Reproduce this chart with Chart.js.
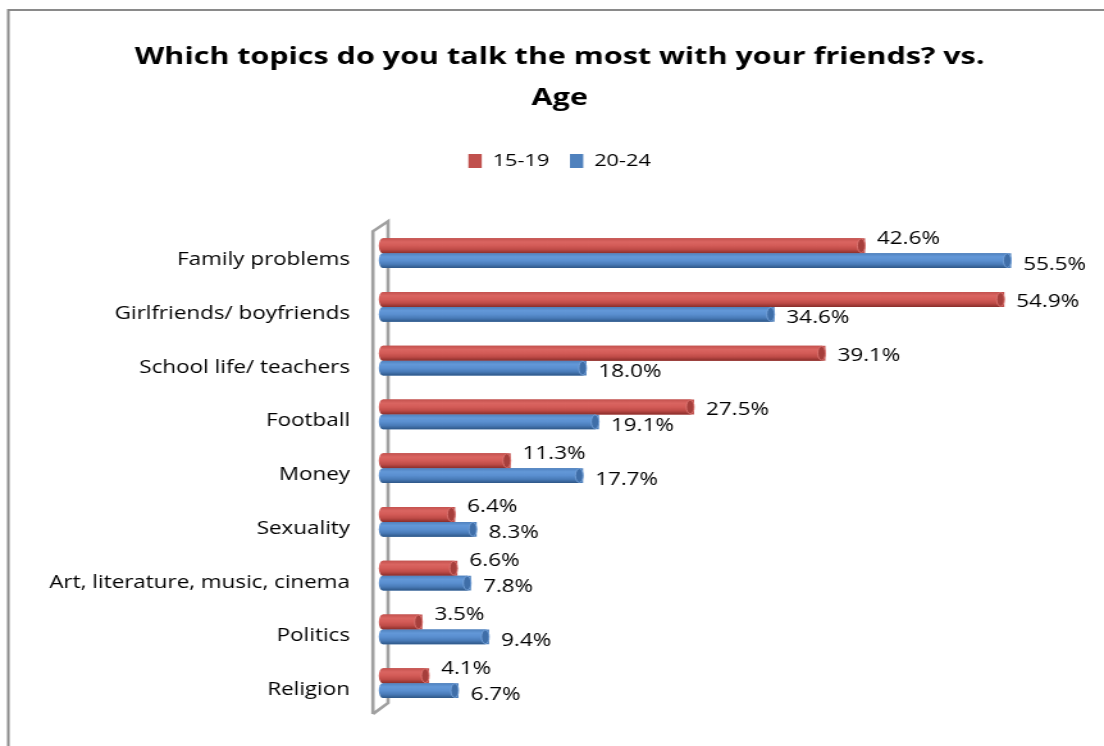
<!DOCTYPE html>
<html>
<head>
<meta charset="utf-8">
<title>Topics vs. Age</title>
<script src="https://cdn.jsdelivr.net/npm/chart.js@4.4.1/dist/chart.umd.min.js"></script>
<style>
  html, body { margin: 0; padding: 0; background: #fff; overflow: hidden; }
  /* chart is laid out narrow and stretched sideways, like the exported picture */
  #wrap { width: 862px; height: 746px; transform: scaleX(1.2807); transform-origin: 0 0; }
</style>
</head>
<body>
<div id="wrap"><canvas id="myChart"></canvas></div>
<script>
// Categories and values (percent)
const topics = [
    'Family problems',
    'Girlfriends/ boyfriends',
    'School life/ teachers',
    'Football',
    'Money',
    'Sexuality',
    'Art, literature, music, cinema',
    'Politics',
    'Religion'
];
const seriesNames = ['15-19', '20-24'];
const age1519 = [42.6, 54.9, 39.1, 27.5, 11.3, 6.4, 6.6, 3.5, 4.1];
const age2024 = [55.5, 34.6, 18.0, 19.1, 17.7, 8.3, 7.8, 9.4, 6.7];

const FONT = '"Open Sans"';

// cylinder shading for each series
const shades = [
    { base: '#C0504D', stops: ['#c4524f', '#da6561', '#d35b57', '#be4b47', '#8a2e2b'], cap: '#a63f3c', rim: '#e07a76' },
    { base: '#4F81BD', stops: ['#4f81bd', '#6398d8', '#5a8fd0', '#497bb8', '#2e5787'], cap: '#3f6ea8', rim: '#7aa6dc' }
];

// Frame lines and the grey 3D wall behind the bars
const backdrop = {
    id: 'backdrop',
    beforeDraw(chart) {
        const c = chart.ctx;
        c.save();
        c.fillStyle = '#fff';
        c.fillRect(0, 0, chart.width, chart.height);
        c.strokeStyle = '#8a8a8a';
        c.lineWidth = 2;
        c.beginPath();
        c.moveTo(6.5, chart.height);
        c.lineTo(6.5, 10);
        c.lineTo(chart.width, 10);
        c.stroke();
        c.restore();
    },
    beforeDatasetsDraw(chart) {
        const a = chart.chartArea;
        const c = chart.ctx;
        const xl = a.left - 7.6, xr = a.left + 4.2;
        c.save();
        c.strokeStyle = '#a0a0a0';
        c.lineWidth = 2.6;
        c.beginPath();
        c.moveTo(xl, a.bottom + 4);
        c.lineTo(xl, a.top + 5);
        c.lineTo(xr, a.top - 5);
        c.lineTo(xr, a.bottom - 7);
        c.lineTo(xl, a.bottom + 4);
        c.stroke();
        c.restore();
    }
};

// Paint each bar as a shaded cylinder, then write its value next to it
const cylinders = {
    id: 'cylinders',
    afterDatasetsDraw(chart) {
        const c = chart.ctx;
        chart.data.datasets.forEach((ds, di) => {
            const meta = chart.getDatasetMeta(di);
            const sh = shades[di];
            meta.data.forEach((bar) => {
                const { x, y, base, height } = bar.getProps(['x', 'y', 'base', 'height'], true);
                const h = height, top = y - h / 2, rx = 3;
                const g = c.createLinearGradient(0, top, 0, top + h);
                sh.stops.forEach((col, k) => g.addColorStop(k / (sh.stops.length - 1), col));
                c.save();
                c.fillStyle = g;
                c.beginPath();
                c.ellipse(base, y, rx, h / 2, 0, Math.PI / 2, Math.PI * 1.5);
                c.lineTo(x - rx, top);
                c.ellipse(x - rx, y, rx, h / 2, 0, -Math.PI / 2, Math.PI / 2);
                c.closePath();
                c.fill();
                // end face
                c.fillStyle = sh.cap;
                c.strokeStyle = sh.rim;
                c.lineWidth = 0.8;
                c.beginPath();
                c.ellipse(x - rx, y, rx, h / 2 - 0.5, 0, 0, Math.PI * 2);
                c.fill();
                c.stroke();
                c.restore();
            });
        });

        // value labels
        c.save();
        c.font = '17.5px ' + FONT;
        c.fillStyle = '#000';
        c.textAlign = 'left';
        c.textBaseline = 'middle';
        chart.data.datasets.forEach((ds, di) => {
            const meta = chart.getDatasetMeta(di);
            meta.data.forEach((bar, i) => {
                const v = ds.data[i];
                let dy = 4;
                if (di === 0) {
                    // lift the label off the longer blue bar below it
                    dy = age2024[i] > v ? -7 : 3;
                }
                c.fillText(v.toFixed(1) + '%', bar.x + 9.4, bar.y + dy);
            });
        });
        c.restore();
    }
};

const ctx = document.getElementById('myChart').getContext('2d');
const topicsChart = new Chart(ctx, {
    type: 'bar',
    data: {
        labels: topics,
        datasets: [{
            label: seriesNames[0],
            data: age1519,
            backgroundColor: shades[0].base,
            borderWidth: 0,
            categoryPercentage: 0.553,
            barPercentage: 1
        }, {
            label: seriesNames[1],
            data: age2024,
            backgroundColor: shades[1].base,
            borderWidth: 0,
            categoryPercentage: 0.553,
            barPercentage: 1
        }]
    },
    options: {
        indexAxis: 'y',
        responsive: true,
        maintainAspectRatio: false,
        animation: false,
        layout: {
            padding: { left: 12, right: 0, top: 0, bottom: 32 }
        },
        scales: {
            x: {
                position: 'top',
                min: 0,
                max: 63.7,
                ticks: { display: false },
                grid: { display: false, drawTicks: false },
                border: { display: false },
                afterFit(scale) { scale.height = 46.8; }
            },
            y: {
                ticks: {
                    font: { family: FONT, size: 17.5 },
                    color: '#000',
                    padding: 25.5,
                    labelOffset: 7
                },
                grid: { display: false, drawTicks: false },
                border: { display: false },
                afterFit(scale) { scale.width = 286.8; }
            }
        },
        plugins: {
            title: {
                display: true,
                text: ['Which topics do you talk the most with your friends? vs.', 'Age'],
                color: '#000',
                font: { family: FONT, size: 23.8, weight: 'bold', lineHeight: 1.72 },
                padding: { top: 37, bottom: 17.6 }
            },
            legend: {
                labels: {
                    font: { family: FONT, size: 17 },
                    color: '#000',
                    boxWidth: 10.4,
                    boxHeight: 14,
                    padding: 16
                }
            },
            tooltip: { enabled: false }
        }
    },
    plugins: [backdrop, cylinders]
});
</script>
</body>
</html>
